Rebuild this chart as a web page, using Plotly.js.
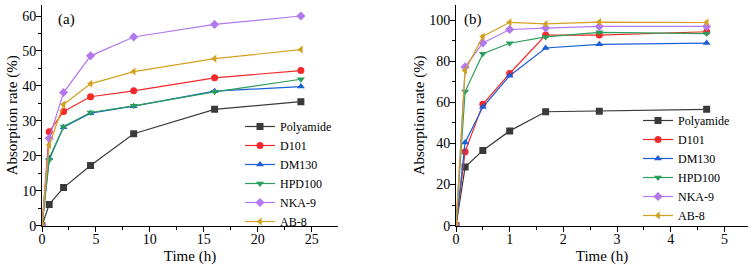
<!DOCTYPE html>
<html>
<head>
<meta charset="utf-8">
<script src="https://cdn.plot.ly/plotly-3.0.1.min.js"></script>
<style>html,body{margin:0;padding:0;background:#fff;}#chart{width:752px;height:265px;}</style>
</head>
<body>
<div id="chart"></div>
<script>
// Panel (a): absorption over 24 h
const timeA = [0, 0.67, 2, 4.5, 8.5, 16, 24];
const polyamideA = [0, 6.1, 10.9, 17.2, 26.3, 33.3, 35.5];
const d101A = [0, 26.9, 32.7, 36.9, 38.6, 42.3, 44.4];
const dm130A = [0, 19.3, 28.2, 32.2, 34.2, 38.5, 39.8];
const hpd100A = [0, 18.8, 28.4, 32.4, 34.3, 38.3, 41.9];
const nka9A = [0, 25.0, 38.1, 48.6, 54.0, 57.6, 60.0];
const ab8A = [0, 23.1, 34.7, 40.6, 44.1, 47.8, 50.4];

// Panel (b): absorption over ~5 h
const timeB = [0, 0.17, 0.5, 1, 1.67, 2.67, 4.67];
const polyamideB = [0, 28.5, 36.6, 46.1, 55.4, 55.7, 56.6];
const d101B = [0, 36.0, 59.0, 74.0, 92.7, 92.7, 94.3];
const dm130B = [0, 40.5, 57.7, 72.9, 86.4, 88.2, 88.8];
const hpd100B = [0, 65.2, 83.6, 88.7, 91.8, 94.0, 93.4];
const nka9B = [0, 77.2, 88.8, 95.4, 96.1, 96.9, 96.9];
const ab8B = [0, 75.5, 92.0, 98.9, 98.1, 99.0, 98.8];

const seriesNames = ['Polyamide', 'D101', 'DM130', 'HPD100', 'NKA-9', 'AB-8'];
const colors = ['#3a3a3a', '#f5282a', '#1a5fd6', '#2b9e5c', '#b278ee', '#d4a020'];
const symbols = ['square', 'circle', 'triangle-up', 'triangle-down', 'diamond', 'triangle-left'];

const dataA = [polyamideA, d101A, dm130A, hpd100A, nka9A, ab8A];
const dataB = [polyamideB, d101B, dm130B, hpd100B, nka9B, ab8B];

const traces = [];
dataA.forEach((ys, i) => {
  traces.push({
    x: timeA, y: ys, name: seriesNames[i], type: 'scatter', mode: 'lines+markers',
    xaxis: 'x', yaxis: 'y', legend: 'legend',
    line: {color: colors[i], width: 1.2},
    marker: {color: colors[i], symbol: symbols[i], size: 7}
  });
});
dataB.forEach((ys, i) => {
  traces.push({
    x: timeB, y: ys, name: seriesNames[i], type: 'scatter', mode: 'lines+markers',
    xaxis: 'x2', yaxis: 'y2', legend: 'legend2',
    line: {color: colors[i], width: 1.2},
    marker: {color: colors[i], symbol: symbols[i], size: 7}
  });
});

const FAM = 'Liberation Serif, Times New Roman, serif';
function f(size) { return {family: FAM, size: size, color: '#000'}; }
function axisBase(extra) {
  return Object.assign({
    showline: true, linecolor: '#000', linewidth: 1, mirror: false,
    showgrid: false, zeroline: false,
    ticks: 'outside', ticklen: 5, tickwidth: 1, tickcolor: '#000',
    ticklabelstandoff: -3,
    tickfont: f(14)
  }, extra);
}

const layout = {
  width: 752, height: 265,
  margin: {l: 0, r: 0, t: 0, b: 0},
  paper_bgcolor: '#fff', plot_bgcolor: '#fff',
  font: f(14),
  xaxis: axisBase({
    domain: [42/752, 338/752], range: [0, 27.44], dtick: 5, tick0: 0, anchor: 'y',
    ticklabelstandoff: -5,
    minor: {dtick: 2.5, ticklen: 3, tickcolor: '#000', ticks: 'outside'},
    title: {text: 'Time (h)', font: f(15), standoff: 4}
  }),
  yaxis: axisBase({
    domain: [39.3/265, 260/265], range: [0, 63.15], dtick: 10, tick0: 0, anchor: 'x',
    minor: {dtick: 5, ticklen: 3, tickcolor: '#000', ticks: 'outside'},
    title: {text: 'Absorption rate (%)', font: f(15), standoff: 0}
  }),
  xaxis2: axisBase({
    domain: [456/752, 748/752], range: [0, 5.44], dtick: 1, tick0: 0, anchor: 'y2',
    ticklabelstandoff: -5,
    minor: {dtick: 0.5, ticklen: 3, tickcolor: '#000', ticks: 'outside'},
    title: {text: 'Time (h)', font: f(15), standoff: 4}
  }),
  yaxis2: axisBase({
    domain: [39.3/265, 260/265], range: [0, 107.3], dtick: 20, tick0: 0, anchor: 'x2',
    minor: {dtick: 10, ticklen: 3, tickcolor: '#000', ticks: 'outside'},
    title: {text: 'Absorption rate (%)', font: f(15), standoff: 0}
  }),
  legend: {
    x: 240/752, xanchor: 'left', y: 1 - 112/265, yanchor: 'top',
    bgcolor: 'rgba(0,0,0,0)', font: f(12),
    tracegroupgap: 0, itemwidth: 30
  },
  legend2: {
    x: 638/752, xanchor: 'left', y: 1 - 106/265, yanchor: 'top',
    bgcolor: 'rgba(0,0,0,0)', font: f(12),
    tracegroupgap: 0, itemwidth: 30
  },
  annotations: [
    {text: '(a)', xref: 'paper', yref: 'paper', x: 56/752, y: 1 - 20/265, xanchor: 'left', yanchor: 'middle',
     showarrow: false, font: f(15)},
    {text: '(b)', xref: 'paper', yref: 'paper', x: 462/752, y: 1 - 20/265, xanchor: 'left', yanchor: 'middle',
     showarrow: false, font: f(15)}
  ]
};

Plotly.newPlot('chart', traces, layout, {staticPlot: true, displayModeBar: false});
</script>
</body>
</html>
